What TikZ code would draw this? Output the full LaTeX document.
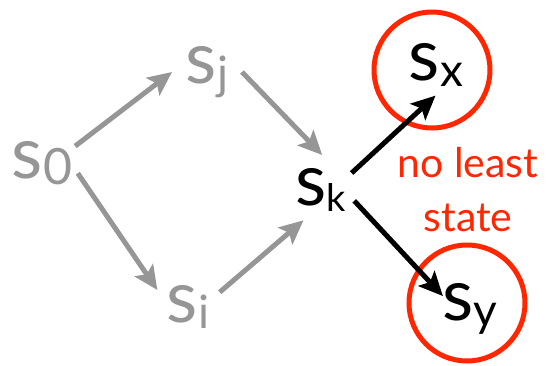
\documentclass[tikz,border=0pt]{standalone}
\usepackage{fontspec}
\setmainfont{Lato}
\usetikzlibrary{arrows.meta}

\definecolor{stategray}{RGB}{150,150,150}
\definecolor{alertred}{RGB}{255,38,0}
\newcommand{\sname}[2][46]{s\raisebox{-6.5pt}{\fontsize{#1}{#1}\selectfont #2}}

\begin{document}
\begin{tikzpicture}[x=1pt, y=1pt]
  % Define styles
  \tikzstyle{state} = [circle, inner sep=0pt, outer sep=0pt, minimum size=70pt, font=\fontsize{72}{72}\selectfont]
  \tikzstyle{greyedge} = [draw=stategray, line width=5pt, -{Stealth[length=24pt, width=22pt, inset=5pt]}]
  \tikzstyle{blackedge} = [draw=black, line width=5pt, -{Stealth[length=24pt, width=22pt, inset=5pt]}]
  \tikzstyle{ring} = [draw=alertred, line width=5pt]

  \useasboundingbox (0,0) rectangle (550,365);

  % Earlier states
  \node[state, text=stategray] (s0) at (42,202) {\sname[50]{0}};
  \node[state, text=stategray] (sj) at (207,293) {\sname{j}};
  \node[state, text=stategray] (si) at (188,58) {\sname{i}};

  % Current state
  \node[state] (sk) at (321,175) {\sname[38]{k}};

  % Incomparable successors
  \node[state] (sx) at (436,300) {\sname{x}};
  \node[state] (sy) at (470,56) {\sname{y}};
  \draw[ring] (sx) ++(-4,-5) circle[radius=58pt];
  \draw[ring] (sy) ++(-3,6) circle[radius=58pt];

  % Arrows
  \draw[greyedge] (s0.27) -- (sj.180);
  \draw[greyedge] (s0.-16) -- (si.151);
  \draw[greyedge] (sj.0) -- (sk.88);
  \draw[greyedge] (si.25) -- (sk.240);
  \draw[blackedge, shorten >=-6pt] (sk.29) -- (sx.262);
  \draw[blackedge, shorten >=-8pt] (sk.-18) -- (sy.150);

  % Add text annotations
  \node[text=alertred, align=center, font=\fontsize{41}{54}\selectfont] (note) at (468,175) {no least\\state};
\end{tikzpicture}
\end{document}
